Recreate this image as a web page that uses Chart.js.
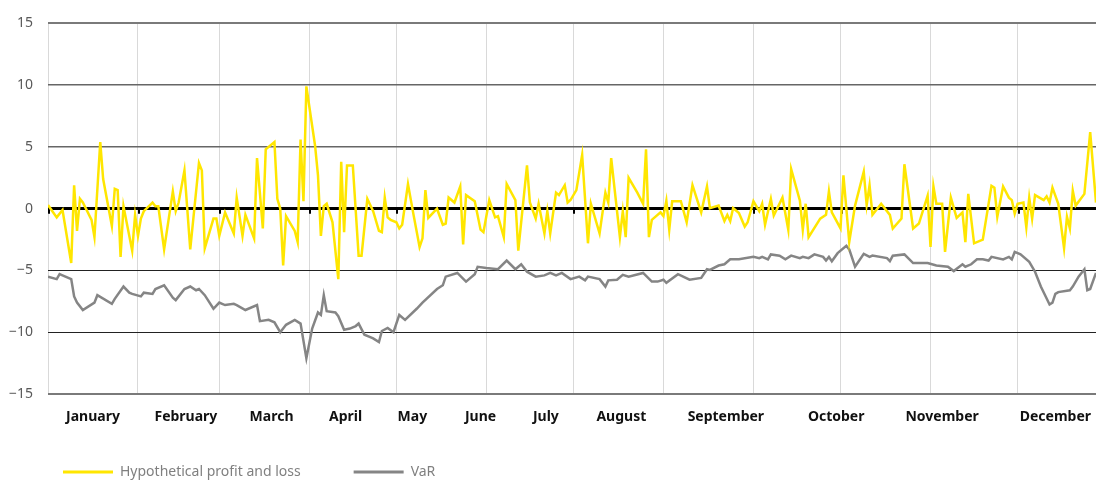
<!DOCTYPE html>
<html>
<head>
<meta charset="utf-8">
<script src="https://cdn.jsdelivr.net/npm/chart.js@4.4.1/dist/chart.umd.min.js"></script>
<style>
  html, body { margin: 0; padding: 0; background: #fff; }
  #wrap { width: 1096px; height: 480px; position: relative; }
</style>
</head>
<body>
<div id="wrap"><canvas id="chart"></canvas></div>
<script>
// x axis = day of year (0 = 1 January)
const monthStarts = [0, 31, 59, 90, 120, 151, 181, 212, 243, 273, 304, 334];
const monthNames = ["January", "February", "March", "April", "May", "June", "July",
  "August", "September", "October", "November", "December"];
const monthLabelDays = [15.5, 47.5, 77, 102.5, 125.5, 149, 171.5, 197.5, 233.5, 271.5, 308, 347];
const lastDay = 361;

const yTicks = [-15, -10, -5, 0, 5, 10, 15];

// hypothetical profit and loss (trading days only)
const pnlDays = [
  0, 3, 5, 8, 9, 10, 11, 12, 15, 16, 18, 19, 22, 23, 24, 25, 26, 29, 30,
  31, 32, 33, 36, 37, 38, 40, 43, 44, 45, 47, 49, 52, 53, 54, 57, 58,
  59, 61, 64, 65, 67, 68, 71, 72, 74, 75, 78, 79, 80, 81, 82, 85, 86, 87, 88, 89,
  92, 93, 94, 95, 96, 98, 100, 101, 102, 103, 105, 107, 108, 110, 112, 114, 115, 116, 117, 118,
  120, 121, 122, 124, 126, 128, 129, 130, 131, 134, 136, 137, 138, 140, 142, 143, 144, 147, 149, 150,
  152, 154, 155, 157, 158, 161, 162, 165, 166, 168, 169, 171, 172, 173, 175, 176, 178, 179, 180,
  182, 184, 186, 187, 190, 192, 193, 194, 197, 198, 199, 200, 203, 205, 206, 207, 208, 211,
  212, 213, 214, 215, 218, 220, 222, 225, 227, 228, 231, 233, 234, 235, 236, 238, 240, 241,
  243, 245, 246, 247, 249, 250, 253, 255, 256, 259, 260, 261, 262, 266, 268, 269, 270,
  273, 274, 276, 278, 281, 282, 283, 284, 287, 290, 291, 294, 295, 298, 300, 303,
  304, 305, 306, 308, 309, 311, 313, 315, 316, 317, 319, 322, 325, 326, 327, 329, 331, 332, 333,
  334, 336, 337, 338, 339, 340, 343, 344, 345, 346, 348, 350, 351, 352, 353, 354, 357, 359, 361
];
const pnlValues = [
  0.3, -0.7, -0.1, -4.4, 1.9, -1.8, 0.8, 0.5, -0.9, -2.3, 5.4, 2.4, -1.4, 1.6, 1.5, -3.9, 0.2, -3.4, -0.5,
  -2.2, -0.8, -0.2, 0.5, 0.2, 0.2, -3.3, 1.4, -0.2, 0.5, 3.1, -3.3, 3.7, 3.1, -3.2, -0.8, -0.8,
  -2.2, -0.3, -2.0, 0.9, -2.2, -0.5, -2.4, 4.1, -1.6, 4.8, 5.4, 0.8, 0.0, -4.6, -0.6, -1.8, -2.7, 5.6, 0.6, 9.9,
  5.1, 2.7, -2.2, 0.2, 0.4, -1.1, -5.7, 3.8, -1.9, 3.5, 3.5, -3.8, -3.8, 0.8, -0.2, -1.8, -1.9, 0.9, -0.7, -0.9,
  -1.1, -1.6, -1.3, 2.0, -0.6, -3.1, -2.4, 1.5, -0.75, 0.0, -1.3, -1.2, 0.9, 0.5, 1.8, -2.9, 1.1, 0.6, -1.7, -1.9,
  0.7, -0.7, -0.6, -2.3, 2.0, 0.7, -3.4, 3.5, 0.5, -0.8, 0.4, -2.0, -0.2, -2.0, 1.3, 1.1, 1.9, 0.5, 0.7,
  1.5, 4.35, -2.8, 0.4, -2.0, 1.3, 0.5, 4.1, -2.3, -0.2, -2.3, 2.5, 1.3, 0.4, 4.8, -2.3, -0.9, -0.3,
  -0.6, 0.65, -1.7, 0.6, 0.6, -1.1, 1.9, -0.3, 1.8, 0.05, 0.25, -1.0, -0.5, -1.0, 0.05, -0.35, -1.45, -1.1,
  0.6, -0.2, 0.4, -1.3, 0.8, -0.55, 0.9, -1.7, 3.2, 0.65, -1.7, 0.4, -2.3, -0.8, -0.5, 1.4, -0.3,
  -1.6, 2.7, -2.7, 0.25, 3.0, 0.3, 1.9, -0.5, 0.4, -0.5, -1.6, -0.8, 3.6, -1.6, -1.2, 1.05,
  -3.1, 1.8, 0.4, 0.4, -3.5, 0.9, -0.75, -0.3, -2.7, 1.2, -2.8, -2.5, 1.85, 1.7, -0.65, 1.8, 0.9, 0.7, -0.4,
  0.4, 0.5, -1.5, 0.9, -0.8, 1.1, 0.7, 1.0, 0.5, 1.7, 0.4, -3.2, -0.65, -1.6, 1.45, 0.25, 1.2, 6.2, 0.5
];

// VaR
const varDays = [
  0, 3, 4, 5, 8, 9, 10, 12, 16, 17, 22, 23, 26, 28, 29,
  32, 33, 36, 37, 40, 43, 44, 47, 49, 51, 52, 54, 57,
  59, 60, 61, 64, 65, 68, 72, 73, 76, 78, 80, 82, 85, 87, 89,
  91, 93, 94, 95, 96, 99, 100, 102, 104, 106, 107, 109, 111, 112, 114, 115, 117, 119,
  121, 123, 127, 129, 134, 136, 137, 141, 144, 147, 148,
  151, 155, 158, 161, 163, 165, 168, 171, 173, 175, 177, 180,
  183, 185, 186, 190, 192, 193, 196, 198, 200, 205, 208, 210,
  212, 213, 217, 221, 225, 227, 228, 231, 233, 235, 238,
  243, 245, 246, 248, 249, 252, 254, 256, 259, 260, 262, 264, 267, 268, 269, 270, 272,
  275, 276, 278, 281, 283, 284, 289, 290, 291, 295, 298, 303,
  306, 310, 312, 315, 316, 318, 320, 322, 324, 325, 329, 331, 332, 333,
  335, 338, 340, 342, 345, 346, 347, 348, 352, 353, 355, 357, 358, 359, 361
];
const varValues = [
  -5.5, -5.7, -5.3, -5.4, -5.7, -7.1, -7.6, -8.2, -7.6, -7.0, -7.7, -7.3, -6.3, -6.8, -6.9,
  -7.1, -6.8, -6.9, -6.5, -6.2, -7.2, -7.4, -6.5, -6.3, -6.6, -6.5, -7.0, -8.1,
  -7.6, -7.7, -7.8, -7.7, -7.8, -8.2, -7.8, -9.1, -9.0, -9.2, -10.0, -9.4, -9.0, -9.3, -12.1,
  -9.7, -8.4, -8.6, -7.0, -8.3, -8.4, -8.7, -9.8, -9.7, -9.5, -9.3, -10.2, -10.4, -10.5, -10.8, -9.9, -9.65, -10.0,
  -8.6, -9.0, -8.1, -7.6, -6.5, -6.2, -5.5, -5.2, -5.9, -5.3, -4.7,
  -4.8, -4.9, -4.2, -4.9, -4.5, -5.1, -5.5, -5.4, -5.2, -5.4, -5.2, -5.7,
  -5.5, -5.8, -5.5, -5.7, -6.3, -5.8, -5.75, -5.35, -5.5, -5.2, -5.9, -5.9,
  -5.75, -6.0, -5.3, -5.75, -5.6, -4.9, -4.95, -4.6, -4.5, -4.1, -4.1,
  -3.9, -4.0, -3.9, -4.1, -3.7, -3.8, -4.1, -3.8, -4.0, -3.9, -4.0, -3.7, -3.9, -4.2, -3.9, -4.25, -3.6,
  -3.0, -3.3, -4.7, -3.65, -3.9, -3.8, -4.0, -4.25, -3.8, -3.7, -4.4, -4.4,
  -4.6, -4.7, -5.05, -4.5, -4.7, -4.5, -4.1, -4.1, -4.2, -3.9, -4.1, -3.9, -4.1, -3.5,
  -3.7, -4.3, -5.1, -6.3, -7.75, -7.6, -6.9, -6.75, -6.6, -6.3, -5.5, -4.9, -6.6, -6.5, -5.2
];

const FONT = '"Noto Sans", "DejaVu Sans", sans-serif';

// small black tick marks on the zero line at the month boundaries
const zeroTicks = {
  id: "zeroTicks",
  beforeDatasetsDraw(chart) {
    const { ctx, scales } = chart;
    const y0 = scales.y.getPixelForValue(0);
    ctx.save();
    ctx.strokeStyle = "#000";
    ctx.lineWidth = 2;
    monthStarts.forEach((d) => {
      const px = Math.round(scales.x.getPixelForValue(d)) + 1;
      ctx.beginPath();
      ctx.moveTo(px, y0);
      ctx.lineTo(px, y0 + 5);
      ctx.stroke();
    });
    ctx.restore();
  },
};

// legend under the chart, line sample + grey text
const lineLegend = {
  id: "lineLegend",
  afterDraw(chart) {
    const ctx = chart.ctx;
    const y = 472;
    let x = 63;
    ctx.save();
    ctx.font = "14px " + FONT;
    ctx.textBaseline = "middle";
    chart.data.datasets.forEach((ds) => {
      ctx.strokeStyle = ds.borderColor;
      ctx.lineWidth = 3;
      ctx.beginPath();
      ctx.moveTo(x, y);
      ctx.lineTo(x + 50, y);
      ctx.stroke();
      ctx.fillStyle = "#808080";
      ctx.fillText(ds.label, x + 57, y);
      x += 57 + ctx.measureText(ds.label).width + 53;
    });
    ctx.restore();
  },
};

const toPoints = (days, values) => days.map((d, i) => ({ x: d, y: values[i] }));

// keep the plot area flush with the right edge
const noSidePadding = (axis) => {
  axis.paddingLeft = 0;
  axis.paddingRight = 0;
};

new Chart(document.getElementById("chart"), {
  type: "line",
  data: {
    datasets: [
      {
        label: "Hypothetical profit and loss",
        data: toPoints(pnlDays, pnlValues),
        borderColor: "#FFE600",
        borderWidth: 2.5,
        pointRadius: 0,
        tension: 0,
      },
      {
        label: "VaR",
        data: toPoints(varDays, varValues),
        borderColor: "#858585",
        borderWidth: 2.5,
        pointRadius: 0,
        tension: 0,
      },
    ],
  },
  options: {
    responsive: true,
    maintainAspectRatio: false,
    animation: false,
    layout: { padding: { top: 22, right: 0, bottom: 38, left: 0 } },
    plugins: {
      legend: { display: false },
      tooltip: { enabled: false },
    },
    scales: {
      x: {
        type: "linear",
        min: 0,
        max: lastDay,
        position: "bottom",
        afterBuildTicks: (axis) => {
          axis.ticks = monthStarts.map((v) => ({ value: v }));
        },
        afterFit: (axis) => {
          axis.height = 0;
          noSidePadding(axis);
        },
        ticks: { display: false },
        grid: { color: "#d9d9d9", lineWidth: 1, drawTicks: false },
        border: { display: false },
      },
      months: {
        type: "linear",
        min: 0,
        max: lastDay,
        position: "bottom",
        afterBuildTicks: (axis) => {
          axis.ticks = monthLabelDays.map((v) => ({ value: v }));
        },
        afterFit: (axis) => {
          axis.height = 48;
          noSidePadding(axis);
        },
        ticks: {
          autoSkip: false,
          maxRotation: 0,
          padding: 15,
          color: "#111",
          font: { family: FONT, size: 14, weight: "bold" },
          callback: (v, i) => monthNames[i],
        },
        grid: { display: false, drawTicks: false },
        border: { display: false },
      },
      y: {
        min: -15,
        max: 15,
        afterBuildTicks: (axis) => {
          axis.ticks = yTicks.map((v) => ({ value: v }));
        },
        afterFit: (axis) => {
          axis.width = 48;
        },
        ticks: {
          padding: 15,
          color: "#595959",
          font: { family: FONT, size: 14 },
          callback: (v) => String(v).replace("-", "\u2212"),
        },
        grid: {
          drawTicks: false,
          color: (c) => {
            const v = c.tick.value;
            if (v === 0) return "#000";
            if (v === -5 || v === -10) return "#222";
            if (Math.abs(v) === 15) return "#7a7a7a";
            return "#666";
          },
          lineWidth: (c) => {
            const v = c.tick.value;
            if (v === 0) return 3;
            if (Math.abs(v) === 15) return 2;
            if (v > 0) return 1.5;
            return 1;
          },
        },
        border: { display: false },
      },
    },
  },
  plugins: [zeroTicks, lineLegend],
});
</script>
</body>
</html>
